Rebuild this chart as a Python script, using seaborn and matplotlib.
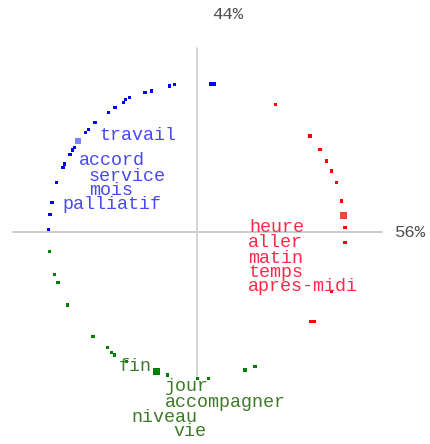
import seaborn as sns
import matplotlib.pyplot as plt
import pandas as pd

# word coordinates on the two axes (blue / red / green groups)
blue_x = [0.075, 0.095, -0.123, -0.148, -0.245, -0.281, -0.366, -0.388, -0.396, -0.443, -0.479,
          -0.551, -0.588, -0.602, -0.642, -0.663, -0.674, -0.686, -0.717, -0.724, -0.758,
          -0.784, -0.795, -0.804]
blue_y = [0.80, 0.80, 0.798, 0.789, 0.762, 0.755, 0.726, 0.717, 0.701, 0.672, 0.645,
          0.591, 0.555, 0.537, 0.492, 0.456, 0.443, 0.418, 0.368, 0.348, 0.269,
          0.158, 0.096, 0.015]
red_x = [0.423, 0.611, 0.665, 0.701, 0.728, 0.755, 0.782, 0.793, 0.800, 0.800, 0.728, 0.617, 0.635]
red_y = [0.690, 0.519, 0.447, 0.384, 0.330, 0.266, 0.168, 0.088, 0.023, -0.058, -0.323, -0.483, -0.483]
green_x = [-0.796, -0.771, -0.751, -0.699, -0.562, -0.483, -0.461, -0.447, -0.380, -0.218,
           -0.158, 0.004, 0.061, 0.259, 0.314]
green_y = [-0.106, -0.229, -0.274, -0.395, -0.566, -0.625, -0.652, -0.665, -0.701, -0.755,
           -0.773, -0.791, -0.791, -0.746, -0.728]
# the bigger squares
big_x = [-0.642, 0.793, -0.218]
big_y = [0.492, 0.088, -0.755]

blue_words = ["travail", "accord", "service", "mois", "palliatif"]
blue_wx = [-0.530, -0.638, -0.584, -0.584, -0.730]
blue_wy = [0.519, 0.385, 0.299, 0.222, 0.150]
red_words = ["heure", "aller", "matin", "temps", "apres-midi"]
red_wx = [0.281, 0.276, 0.276, 0.276, 0.276]
red_wy = [0.023, -0.059, -0.141, -0.220, -0.296]
green_words = ["fin", "jour", "accompagner", "niveau", "vie"]
green_wx = [-0.422, -0.173, -0.173, -0.357, -0.130]
green_wy = [-0.728, -0.836, -0.923, -1.002, -1.079]

axis_pct = ["44%", "56%"]

sns.set_style("white")
fig = plt.figure(figsize=(4.3, 4.44), dpi=100)
ax = fig.add_axes([0, 0, 1, 1])

ax.plot([-0.995, 1.0], [0, 0], color="#c8c8c8", lw=1.3, zorder=0)
ax.plot([0, 0], [-0.8, 0.995], color="#d4d4d4", lw=1.3, zorder=0)

df = pd.concat([
    pd.DataFrame({"x": blue_x, "y": blue_y, "g": "b"}),
    pd.DataFrame({"x": red_x, "y": red_y, "g": "r"}),
    pd.DataFrame({"x": green_x, "y": green_y, "g": "g"}),
])
pal = {"b": "#0000ff", "r": "#ff0000", "g": "#008000"}
sns.scatterplot(data=df, x="x", y="y", hue="g", palette=pal, marker="s", s=6,
                linewidth=0, legend=False, ax=ax)
sns.scatterplot(x=big_x, y=big_y, hue=["b", "r", "g"], palette={"b": "#8080ff", "r": "#ff4040", "g": "#008000"},
                marker="s", s=22, linewidth=0, legend=False, ax=ax)

font = ["Liberation Mono", "DejaVu Sans Mono"]
for words, wx, wy, c in [(blue_words, blue_wx, blue_wy, "#4848f8"),
                         (red_words, red_wx, red_wy, "#ff2848"),
                         (green_words, green_wx, green_wy, "#3f7a28")]:
    for w, x, y in zip(words, wx, wy):
        ax.text(x, y, w, color=c, fontsize=13.2, family=font, ha="left", va="center")

ax.text(0.168, 1.173, axis_pct[0], color="#505050", fontsize=12.5, family=font, ha="center", va="center")
ax.text(1.07, -0.005, axis_pct[1], color="#505050", fontsize=12.5, family=font, ha="left", va="center")

ax.set_xlim(-197 / 185, 233 / 185)
ax.set_ylim(-212 / 185, 232 / 185)
ax.axis("off")
fig.savefig("out.png", dpi=100, facecolor="white")
